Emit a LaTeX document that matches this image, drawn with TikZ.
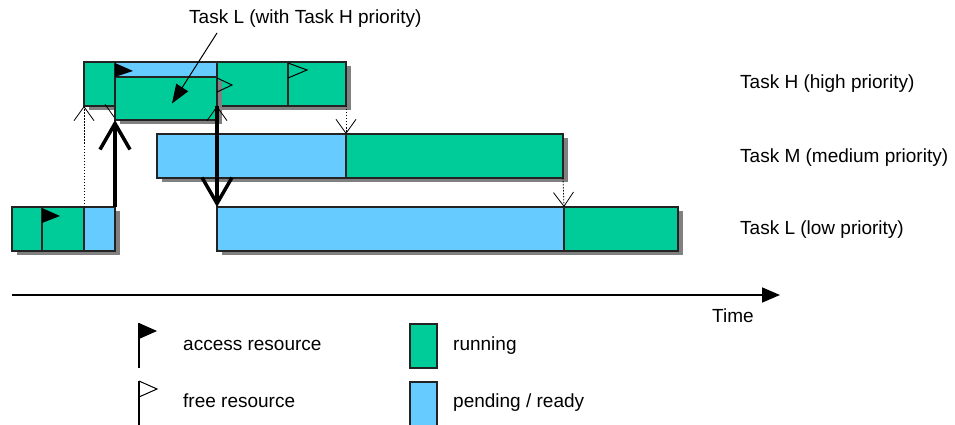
\documentclass[tikz,border=0pt]{standalone}
\usepackage{fontspec}
\setmainfont{Liberation Sans}
\usetikzlibrary{arrows.meta,calc}
\definecolor{run}{RGB}{0,204,153}
\definecolor{wait}{RGB}{102,204,255}
\definecolor{shadowgray}{RGB}{128,128,128}
\definecolor{edge}{RGB}{35,35,35}

\begin{document}
\begin{tikzpicture}[x=1pt,y=-1pt,
  seg/.style={draw=edge, line width=1.2pt, inner sep=0pt, outer sep=0pt, anchor=north west},
  running/.style={seg, fill=run},
  pending/.style={seg, fill=wait},
  shade/.style={fill=shadowgray},
  txt/.style={anchor=base west, inner sep=0pt, font=\fontsize{19}{22}\selectfont},
  switch/.style={line width=3.5pt, -{Straight Barb[length=26pt,width=30pt]}},
  hint/.style={line width=0.8pt, dash pattern=on 1.5pt off 1.5pt,
    -{Straight Barb[length=14pt,width=20pt,line width=0.8pt]}},
  pointer/.style={line width=1pt, -{Triangle[length=19pt,width=14pt]}},
  accessflag/.style={fill=black},
  freeflag/.style={draw=black, line width=1pt, fill=none},
]
\useasboundingbox (0,0) rectangle (955,425);
\clip (0,0) rectangle (955,425);

% drop shadows behind the bars
\fill[shade] (89,66) rectangle (351,110);
\fill[shade] (162,138) rectangle (568,182);
\fill[shade] (17,211) rectangle (120,255);
\fill[shade] (222,211) rectangle (683,255);

% Task H
\node[running, minimum width=31pt,  minimum height=44pt] (h1) at (84,62)  {};
\node[pending, minimum width=102pt, minimum height=44pt] (h2) at (115,62) {};
\node[running, minimum width=71pt,  minimum height=44pt] (h3) at (217,62) {};
\node[running, minimum width=58pt,  minimum height=44pt] (h4) at (288,62) {};

% preemption hint at the priority raise
\draw[hint] (h2.north west) -- (115,119);

% Task L running with the priority of Task H
\fill[shade] (120,81) rectangle (222,124);
\node[running, minimum width=102pt, minimum height=43pt] (ov) at (115,77) {};

% Task M
\node[pending, minimum width=189pt, minimum height=44pt] (m1) at (157,134) {};
\node[running, minimum width=217pt, minimum height=44pt] (m2) at (346,134) {};

% Task L
\node[running, minimum width=30pt,  minimum height=44pt] (l1) at (12,207)  {};
\node[running, minimum width=42pt,  minimum height=44pt] (l2) at (42,207)  {};
\node[pending, minimum width=31pt,  minimum height=44pt] (l3) at (84,207)  {};
\node[pending, minimum width=347pt, minimum height=44pt] (l4) at (217,207) {};
\node[running, minimum width=114pt, minimum height=44pt] (l5) at (564,207) {};

% resource flags inside the bars
\fill[accessflag] (42,208) -- (60,216) -- (42,223) -- cycle;
\fill[accessflag] (115,63) -- (133,71) -- (115,77) -- cycle;
\draw[freeflag] (288,63) -- (307,70) -- (288,78);
\draw[freeflag] (217,78) -- (232,85) -- (217,92);

% context switch hints
\draw[hint] (l3.north west) -- (h1.south west);
\draw[hint] (l4.north west) -- (h3.south west);
\draw[hint] (h4.south east) -- (m1.north east);
\draw[hint] (m2.south east) -- (l4.north east);

% main switches
\draw[switch] (l3.north east) -- (ov.south west);
\draw[switch] (h3.south west) -- (l4.north west);

% caption with pointer
\node[txt] (cap) at (189,24) {Task L (with Task H priority)};
\coordinate (captail) at (217,33);
\draw[pointer] (captail) -- ($(ov.center)+(6,5)$);

% task names
\node[txt] (nameH) at (740,89)  {Task H (high priority)};
\node[txt] (nameM) at (740,162) {Task M (medium priority)};
\node[txt] (nameL) at (740,234) {Task L (low priority)};

% time axis
\coordinate (t0) at (12,295);
\coordinate (t1) at (780,295);
\draw[line width=1.6pt, -{Triangle[length=18pt,width=15pt]}] (t0) -- (t1);
\node[txt] (time) at (712,322) {Time};

% legend
\draw[line width=1.2pt] (139,323) -- (139,368);
\fill[accessflag] (139,323) -- (157,331) -- (139,339) -- cycle;
\node[txt] (legacc) at (183,350) {access resource};
\draw[line width=1.2pt] (139,381) -- (139,430);
\draw[freeflag] (139,381) -- (157,389) -- (139,397);
\node[txt] (legfree) at (183,407) {free resource};

\node[running, line width=1.5pt, minimum width=27pt, minimum height=44pt] (legrun) at (410,324) {};
\node[txt] (legruntxt) at (453,350) {running};
\node[pending, line width=1.5pt, minimum width=27pt, minimum height=50pt] (legpend) at (410,382) {};
\node[txt] (legpendtxt) at (453,407) {pending / ready};
\end{tikzpicture}
\end{document}
